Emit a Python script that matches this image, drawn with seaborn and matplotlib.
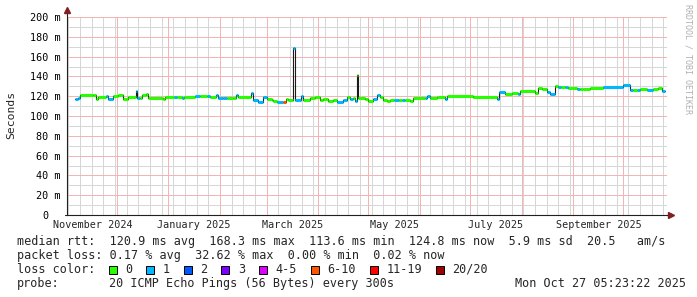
import numpy as np
import pandas as pd
import matplotlib
matplotlib.use("Agg")
import matplotlib.pyplot as plt
import matplotlib.transforms as mtransforms
from matplotlib.patches import Rectangle
import seaborn as sns

# ---------------- data ----------------
T0 = pd.Timestamp("2024-11-01 05:23:22")   # left edge of the graph
SPAN_DAYS = 360                              # "last 360 days"
END_DAY = 358.8

# median rtt step segments: start (days since T0), median (ms), loss class index
seg_day = [5.0, 6.5, 8.0, 15.5, 17.5, 18.5, 23.5, 24.5, 27.5, 30.5,
           33.5, 36.5, 41.5, 42.2, 44.0, 45.0, 47.5, 48.5, 57.5, 59.0,
           64.0, 66.0, 69.0, 70.0, 76.5, 80.0, 84.0, 86.0, 89.5, 90.5,
           93.5, 96.0, 99.5, 101.5, 102.5, 110.5, 111.5, 114.5, 117.5, 120.0,
           123.0, 123.5, 126.0, 129.5, 131.5, 132.5, 135.5, 137.0, 140.5, 141.5,
           146.0, 149.0, 151.5, 153.5, 156.5, 159.5, 162.0, 165.5, 168.0, 170.0,
           171.5, 173.0, 173.8, 174.8, 178.8, 180.6, 183.6, 186.0, 187.8, 189.6,
           192.0, 194.0, 196.0, 199.0, 201.0, 202.5, 206.0, 207.6, 215.0, 216.0,
           218.0, 222.0, 226.5, 228.0, 243.6, 258.0, 259.0, 263.0, 267.0, 270.5,
           272.0, 281.0, 282.6, 285.0, 288.0, 290.0, 292.8, 294.6, 296.5, 298.5,
           300.6, 306.0, 307.5, 309.6, 313.8, 321.6, 333.6, 337.8, 339.6, 342.0,
           343.8, 348.0, 351.6, 354.6, 357.0]
seg_ms = [116.8, 118.5, 121.2, 120.8, 116.8, 118.9, 119.9, 116.8, 119.9, 121.2,
          116.8, 118.9, 125.0, 118.2, 118.5, 121.2, 122.2, 118.5, 117.2, 119.2,
          119.2, 119.5, 117.8, 119.5, 119.9, 119.9, 119.9, 119.5, 121.5, 118.2,
          117.8, 117.8, 118.5, 121.2, 119.0, 123.5, 116.2, 114.5, 118.9, 117.0,
          116.2, 115.2, 113.8, 114.2, 116.8, 115.8, 168.3, 116.2, 120.2, 115.8,
          118.2, 119.5, 115.8, 116.8, 115.2, 116.5, 113.8, 115.8, 119.2, 116.8,
          118.5, 115.2, 141.4, 118.5, 116.8, 114.8, 117.0, 121.2, 119.2, 116.5,
          114.8, 116.2, 116.0, 116.2, 115.8, 116.2, 114.8, 118.2, 118.5, 119.9,
          118.5, 119.2, 117.2, 120.0, 119.2, 117.2, 124.5, 121.8, 122.9, 122.5,
          124.9, 123.2, 128.3, 126.9, 124.2, 122.6, 130.3, 129.5, 129.3, 129.2,
          128.0, 126.9, 127.2, 127.6, 128.6, 129.3, 131.8, 126.5, 126.6, 126.2,
          127.4, 126.5, 127.6, 128.6, 124.8]
seg_loss = [1, 1, 0, 0, 0, 0, 1, 1, 0, 0,
            0, 0, 1, 1, 0, 0, 0, 0, 0, 0,
            1, 0, 1, 0, 1, 0, 1, 0, 1, 1,
            1, 0, 0, 1, 0, 1, 1, 1, 1, 0,
            0, 0, 1, 5, 0, 0, 1, 1, 1, 0,
            0, 0, 0, 0, 0, 0, 1, 1, 0, 1,
            0, 1, 0, 0, 0, 0, 1, 1, 0, 0,
            0, 0, 1, 0, 1, 0, 0, 0, 1, 1,
            0, 0, 1, 0, 0, 1, 1, 0, 0, 1,
            0, 0, 0, 0, 1, 1, 0, 1, 0, 1,
            0, 1, 0, 0, 0, 1, 1, 1, 0, 1,
            0, 1, 0, 0, 1]

loss_labels = ["0", "1", "2", "3", "4-5", "6-10", "11-19", "20/20"]
loss_colors = ["#26ff00", "#00b8ff", "#0059ff", "#7e00ff",
               "#dd00ff", "#ff5500", "#ff0000", "#a10000"]

y_ticks = [0, 20, 40, 60, 80, 100, 120, 140, 160, 180, 200]
y_tick_labels = ["0", "20 m", "40 m", "60 m", "80 m", "100 m",
                 "120 m", "140 m", "160 m", "180 m", "200 m"]
x_label_months = ["2024-11-01", "2025-01-01", "2025-03-01",
                  "2025-05-01", "2025-07-01", "2025-09-01"]
x_label_texts = ["November 2024", "January 2025", "March 2025",
                 "May 2025", "July 2025", "September 2025"]

rtt_stats = [120.9, 168.3, 113.6, 124.8, 5.9, 20.5]      # avg max min now sd am/s
loss_stats = [0.17, 32.62, 0.00, 0.02]                    # avg max min now
probe_text = "20 ICMP Echo Pings (56 Bytes) every 300s"
stamp_text = "Mon Oct 27 05:23:22 2025"

# ---------------- style ----------------
sns.set_style("white")
plt.rcParams["font.family"] = ["DejaVu Sans Mono", "DejaVu Sans"]

W, H = 697, 297
fig = plt.figure(figsize=(W / 100, H / 100), dpi=100, facecolor="white")
ax = fig.add_axes([67 / W, 1 - 215 / H, 600 / W, 198 / H])
ax.set_facecolor("white")
ax.set_xlim(0, SPAN_DAYS)
ax.set_ylim(0, 200)

day = pd.Timedelta(days=1)
month_days = [(d - T0) / day for d in pd.date_range("2024-12-01", "2025-10-01", freq="MS")]
week_days = [(d - T0) / day for d in pd.date_range("2024-11-02", periods=52, freq="7D")]
week_days = [w for w in week_days if w < SPAN_DAYS]

# dotted rrdtool-style grid
MAJ = "#f3b4b4"
MINC = "#d6d6d6"
grid_kw = dict(lw=0.72, ls=(0, (1, 1)), snap=True, antialiased=False, zorder=0.5)
for yv in np.arange(10, 200, 20):
    ax.axhline(yv, color=MINC, **grid_kw)
for xv in week_days:
    ax.axvline(xv, color=MINC, **grid_kw)
for yv in y_ticks[1:]:
    ax.axhline(yv, color=MAJ, **grid_kw)
for xv in month_days:
    ax.axvline(xv, color=MAJ, **grid_kw)

ax.set_yticks(y_ticks)
ax.set_xticks([])
ax.tick_params(which="both", length=0)
ax.set_yticklabels(y_tick_labels, fontsize=7.25, color="#000000")
ax.tick_params(axis="y", pad=4.6)
for lab in ax.get_yticklabels():
    if lab.get_text() == "0":
        lab.set_transform(lab.get_transform() +
                          mtransforms.ScaledTranslation(-0.121, 0, fig.dpi_scale_trans))

for s in ["top", "right"]:
    ax.spines[s].set_visible(False)
AX_C = "#202020"
for s in ["left", "bottom"]:
    ax.spines[s].set_color(AX_C)
    ax.spines[s].set_linewidth(0.8)
    ax.spines[s].set_zorder(3)

ARROW_C = "#7f1f1f"
ax.plot([0, 0], [1, 1.03], transform=ax.transAxes, color=AX_C, lw=0.8, clip_on=False)
ax.plot([0], [1.035], transform=ax.transAxes, marker="^", ms=4, color=ARROW_C,
        clip_on=False, ls="none")
ax.plot([-0.003, 0], [0, 0], transform=ax.transAxes, color=AX_C, lw=0.8, clip_on=False)
ax.plot([1.0, 1.002], [0, 0], transform=ax.transAxes, color=AX_C, lw=0.8, clip_on=False)
ax.plot([1.006], [0], transform=ax.transAxes, marker=">", ms=4, color=ARROW_C,
        clip_on=False, ls="none")

# x labels (centred half a month after the month start, like rrdtool)
lab_tr = mtransforms.blended_transform_factory(ax.transData, ax.transAxes)
for m, t in zip(x_label_months, x_label_texts):
    xd = (pd.Timestamp(m) - T0) / day + 15.5
    ax.text(xd, -0.027, t, transform=lab_tr, ha="center", va="top", fontsize=7.25)

# ---------------- data marks ----------------
n = len(seg_day)
ends = seg_day[1:] + [END_DAY]
base_rows = []
for i in range(n):
    base_rows.append((seg_day[i], seg_ms[i]))
    base_rows.append((ends[i], seg_ms[i]))
base = pd.DataFrame(base_rows, columns=["day", "ms"])
sns.lineplot(data=base, x="day", y="ms", sort=False, estimator=None, color="#1a1a1a",
             lw=0.8, ax=ax, legend=False)

# coloured median band: horizontal pieces only (no vertical connectors)
col_rows = []
for i in range(n):
    lab = loss_labels[seg_loss[i]]
    col_rows.append((seg_day[i], seg_ms[i], lab, i))
    col_rows.append((ends[i], seg_ms[i], lab, i))
col = pd.DataFrame(col_rows, columns=["day", "ms", "loss", "seg"])
sns.lineplot(data=col, x="day", y="ms", hue="loss", units="seg", estimator=None,
             sort=False, palette=dict(zip(loss_labels, loss_colors)), lw=2.2,
             ax=ax, legend=False, solid_capstyle="butt")
ax.set_xlabel("")
ax.set_ylabel("")

# ---------------- texts ----------------
FS = 8.5
CW = 7.1  # char width in px

def fx(px):
    return px / W

def fy(py):
    return 1 - py / H

fig.text(fx(11), fy(115), "Seconds", rotation=90, ha="center", va="center", fontsize=8.2)
fig.text(fx(688), fy(4), "RRDTOOL / TOBI OETIKER", rotation=270, ha="center", va="top",
         fontsize=6, color="#b0b0b0")

a, mx, mn, now, sd, ams = rtt_stats
line1 = (f"median rtt:  {a:.1f} ms avg  {mx:.1f} ms max  {mn:.1f} ms min  "
         f"{now:.1f} ms now  {sd:.1f} ms sd  {ams:.1f}   am/s")
la, lm, ln, lnow = loss_stats
line2 = f"packet loss: {la:.2f} % avg  {lm:.2f} % max  {ln:.2f} % min  {lnow:.2f} % now"
X0 = 17
fig.text(fx(X0), fy(241), line1, ha="left", va="center", fontsize=FS)
fig.text(fx(X0), fy(255.5), line2, ha="left", va="center", fontsize=FS)
fig.text(fx(X0), fy(269.5), "loss color:", ha="left", va="center", fontsize=FS)
fig.text(fx(X0), fy(283.5), "probe:", ha="left", va="center", fontsize=FS)
fig.text(fx(X0 + 13 * CW), fy(283.5), probe_text, ha="left", va="center", fontsize=FS)
fig.text(fx(686), fy(283.5), stamp_text, ha="right", va="center", fontsize=FS)

bx = X0 + 12.9 * CW
for lab, c in zip(loss_labels, loss_colors):
    fig.patches.append(Rectangle((fx(bx), fy(273.5)), 8 / W, 8 / H,
                                 transform=fig.transFigure, facecolor=c,
                                 edgecolor="#000000", lw=0.7))
    tx = bx + 2.3 * CW
    fig.text(fx(tx), fy(269.5), lab, ha="left", va="center", fontsize=FS)
    bx = tx + (len(lab) + 2) * CW

fig.savefig("out.png", dpi=100, facecolor="white")
